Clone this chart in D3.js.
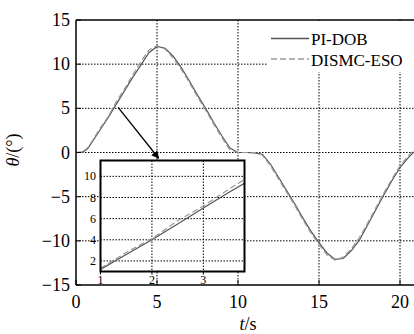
<!DOCTYPE html>
<html>
<head>
<meta charset="utf-8">
<script src="https://cdn.jsdelivr.net/npm/d3@7"></script>
<style>
  body { margin: 0; background: #fff; }
  text { font-family: "Liberation Serif", "DejaVu Serif", "Times New Roman", serif; }
</style>
</head>
<body>
<div id="chart"></div>
<script>
// time axis (s)
const times = [0, 0.4, 0.7, 1, 1.5, 2, 2.5, 3, 3.5, 4, 4.5, 5, 5.5, 6, 6.5, 7, 7.5, 8, 8.5, 9, 9.5,
  10, 10.5, 11, 11.5, 12, 12.5, 13, 13.5, 14, 14.5, 15, 15.5, 16, 16.5, 17, 17.5, 18, 18.5, 19, 19.5, 20, 20.5, 21];
// theta (deg)
const piDob = [0, 0.05, 0.4, 1.2, 2.6, 4.0, 5.5, 7.0, 8.5, 9.9, 11.3, 12.0, 11.8, 10.9, 9.6, 8.1, 6.5, 5.0, 3.4, 1.9, 0.5,
  0, 0, -0.05, -0.2, -1.3, -2.8, -4.3, -5.8, -7.4, -8.9, -10.2, -11.4, -12.1, -12.0, -11.1, -9.9, -8.2, -6.5, -4.8, -3.2, -1.7, -0.6, 0.3];
const dismcEso = [0, 0.05, 0.5, 1.3, 2.8, 4.1, 5.8, 7.2, 8.8, 10.3, 11.6, 12.1, 11.7, 10.7, 9.4, 7.9, 6.3, 4.8, 3.2, 1.7, 0.3,
  0, 0, 0, -0.3, -1.5, -3.0, -4.5, -6.0, -7.6, -9.1, -10.4, -11.6, -12.2, -11.8, -10.9, -9.6, -8.0, -6.3, -4.6, -3.0, -1.5, -0.4, 0.5];

const xTicks = [0, 5, 10, 15, 20];
const yTicks = [-15, -10, -5, 0, 5, 10, 15];
const insetXTicks = [1, 2, 3];
const insetYTicks = [2, 4, 6, 8, 10];
const seriesNames = ["PI-DOB", "DISMC-ESO"];
// arrow from curve point to inset (t, theta)
const arrowFrom = [2.6, 5.1];
const arrowTo = [5.1, -0.65];

const W = 414, H = 334;
const FONT = "'Liberation Serif', 'DejaVu Serif', serif";
const svg = d3.select("#chart").append("svg").attr("width", W).attr("height", H)
  .attr("font-family", FONT);

const x = d3.scaleLinear().domain([0, 21]).range([76, 416.2]);
const y = d3.scaleLinear().domain([-15, 15]).range([285, 20]);

const series = [
  { name: seriesNames[0], vals: piDob, color: "#555", dash: null, w: 1.2 },
  { name: seriesNames[1], vals: dismcEso, color: "#9a9a9a", dash: "6,3", w: 1.2 }
];

const defs = svg.append("defs");
defs.append("clipPath").attr("id", "clipMain")
  .append("rect").attr("x", 76).attr("y", 20).attr("width", 340).attr("height", 265);

// grid
const grid = svg.append("g").attr("stroke", "#000").attr("stroke-width", 1).attr("stroke-dasharray", "1.5,1.5");
grid.selectAll("line.gx").data(xTicks.filter(d => d > 0)).join("line")
  .attr("x1", d => x(d)).attr("x2", d => x(d)).attr("y1", y(15)).attr("y2", y(-15));
grid.selectAll("line.gy").data(yTicks.filter(d => d > -15 && d < 15)).join("line")
  .attr("x1", x(0)).attr("x2", W).attr("y1", d => y(d)).attr("y2", d => y(d));

const line = (vals, xs, ys) => d3.line().x((d, i) => xs(times[i])).y(d => ys(d))(vals);

const mainLines = svg.append("g").attr("clip-path", "url(#clipMain)");
series.forEach(s => {
  mainLines.append("path").attr("d", line(s.vals, x, y))
    .attr("fill", "none").attr("stroke", s.color).attr("stroke-width", s.w)
    .attr("stroke-dasharray", s.dash);
});

// axes frame
svg.append("line").attr("x1", x(0)).attr("x2", W).attr("y1", y(15)).attr("y2", y(15)).attr("stroke", "#000").attr("stroke-width", 1.5);
svg.append("line").attr("x1", x(0)).attr("x2", W).attr("y1", y(-15)).attr("y2", y(-15)).attr("stroke", "#000").attr("stroke-width", 1.5);
svg.append("line").attr("x1", x(0)).attr("x2", x(0)).attr("y1", y(15)).attr("y2", y(-15)).attr("stroke", "#000").attr("stroke-width", 1.5);

// ticks (inward)
svg.append("g").selectAll("line").data(xTicks).join("line")
  .attr("x1", d => x(d)).attr("x2", d => x(d)).attr("y1", y(-15)).attr("y2", y(-15) - 5)
  .attr("stroke", "#000");
svg.append("g").selectAll("line").data(yTicks).join("line")
  .attr("x1", x(0)).attr("x2", x(0) + 5).attr("y1", d => y(d)).attr("y2", d => y(d))
  .attr("stroke", "#000");

svg.append("g").selectAll("text").data(xTicks).join("text")
  .attr("x", d => x(d)).attr("y", 308).attr("text-anchor", "middle")
  .attr("font-size", 18).text(d => d);
svg.append("g").selectAll("text").data(yTicks).join("text")
  .attr("x", 70).attr("y", d => y(d) + 6).attr("text-anchor", "end")
  .attr("font-size", 18).text(d => d < 0 ? "\u2212" + Math.abs(d) : d);

// axis labels
const xl = svg.append("text").attr("x", 248).attr("y", 330).attr("text-anchor", "middle").attr("font-size", 18);
xl.append("tspan").attr("font-style", "italic").text("t");
xl.append("tspan").text("/s");
const yl = svg.append("text").attr("transform", "translate(19,150) rotate(-90)")
  .attr("text-anchor", "middle").attr("font-size", 18);
yl.append("tspan").attr("font-style", "italic").text("θ");
yl.append("tspan").text("/(°)");

// legend
svg.append("rect").attr("x", 267).attr("y", 21).attr("width", 150).attr("height", 51).attr("fill", "#fff");
const leg = svg.append("g");
series.forEach((s, i) => {
  const ly = 38.5 + i * 20.5;
  leg.append("line").attr("x1", 271).attr("x2", 309).attr("y1", ly).attr("y2", ly)
    .attr("stroke", s.color).attr("stroke-width", 1.3).attr("stroke-dasharray", s.dash);
  leg.append("text").attr("x", 311).attr("y", ly + 6.5).attr("font-size", 17).text(s.name);
});

// arrow
defs.append("marker").attr("id", "arr").attr("viewBox", "0 0 10 10").attr("refX", 9).attr("refY", 5)
  .attr("markerWidth", 6).attr("markerHeight", 6).attr("orient", "auto")
  .append("path").attr("d", "M0,0 L10,5 L0,10 z").attr("fill", "#000");
svg.append("line")
  .attr("x1", x(arrowFrom[0])).attr("y1", y(arrowFrom[1]))
  .attr("x2", x(arrowTo[0])).attr("y2", y(arrowTo[1]))
  .attr("stroke", "#000").attr("stroke-width", 1.3).attr("marker-end", "url(#arr)");

// inset
const ix = d3.scaleLinear().domain([1, 3.8]).range([100.5, 244.5]);
const iy = d3.scaleLinear().domain([1, 11.5]).range([271.5, 160.5]);
defs.append("clipPath").attr("id", "clipInset")
  .append("rect").attr("x", 100.5).attr("y", 160.5).attr("width", 144).attr("height", 111);

const inset = svg.append("g");
inset.append("rect").attr("x", 100.5).attr("y", 160.5).attr("width", 144).attr("height", 111).attr("fill", "#fff");
const ig = inset.append("g").attr("stroke", "#000").attr("stroke-width", 1).attr("stroke-dasharray", "1.5,1.5");
ig.selectAll("line.a").data(insetXTicks.filter(d => d > 1)).join("line")
  .attr("x1", d => ix(d)).attr("x2", d => ix(d)).attr("y1", iy(11.5)).attr("y2", iy(1));
ig.selectAll("line.b").data(insetYTicks).join("line")
  .attr("x1", ix(1)).attr("x2", ix(3.8)).attr("y1", d => iy(d)).attr("y2", d => iy(d));

const il = inset.append("g").attr("clip-path", "url(#clipInset)");
series.forEach(s => {
  il.append("path").attr("d", line(s.vals, ix, iy))
    .attr("fill", "none").attr("stroke", s.color).attr("stroke-width", 1.2)
    .attr("stroke-dasharray", s.dash);
});
inset.append("rect").attr("x", 100.5).attr("y", 160.5).attr("width", 144).attr("height", 111)
  .attr("fill", "none").attr("stroke", "#000").attr("stroke-width", 2);

inset.append("g").selectAll("line").data(insetXTicks).join("line")
  .attr("x1", d => ix(d)).attr("x2", d => ix(d)).attr("y1", iy(1)).attr("y2", iy(1) + 3).attr("stroke", "#000");
inset.append("g").selectAll("text").data(insetXTicks).join("text")
  .attr("x", d => ix(d)).attr("y", 283.5).attr("text-anchor", "middle").attr("font-size", 12).text(d => d);
inset.append("g").selectAll("text").data(insetYTicks).join("text")
  .attr("x", 96).attr("y", d => iy(d) + 4).attr("text-anchor", "end").attr("font-size", 12).text(d => d);
</script>
</body>
</html>
